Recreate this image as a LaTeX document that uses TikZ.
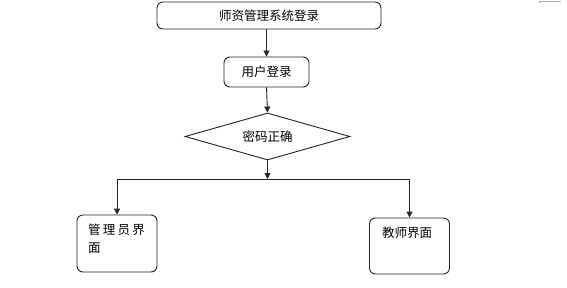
\documentclass[tikz,border=0pt]{standalone}
\usepackage{fontspec}
\setmainfont{Noto Sans CJK SC}
\usetikzlibrary{shapes.geometric,arrows.meta}
\begin{document}
\begin{tikzpicture}[x=1pt,y=1pt,
  box/.style={draw=black!85,line width=0.9pt,rounded corners=6pt,inner sep=0pt},
  lbl/.style={font=\fontsize{12.5}{14}\selectfont,inner sep=0pt},
  conn/.style={draw=black!85,line width=0.9pt},
  arr/.style={conn,-{Triangle[width=6pt,length=6pt]}}]
\useasboundingbox (0,0) rectangle (567,-287);
\fill[white] (0,0) rectangle (567,-287);
% faint mark at top right
\draw[black!30,line width=0.6pt] (539,-1.5) -- (561,-1.5) (539,-0.5) -- (539,-2.5);
% nodes
\node[box,minimum width=224pt,minimum height=27pt] (top) at (269,-15.5) {};
\node[lbl] (toptext) at (top.center) {师资管理系统登录};
\node[box,minimum width=85pt,minimum height=30pt] (login) at (266.5,-72) {};
\node[lbl] (logintext) at (login.center) {用户登录};
\node[draw=black!85,line width=0.9pt,diamond,inner sep=0pt,minimum width=165pt,minimum height=47pt] (pwd) at (267.5,-136.5) {};
\node[lbl] (pwdtext) at (pwd.center) {密码正确};
\node[box,minimum width=80pt,minimum height=57pt] (admin) at (117,-243.5) {};
\node[lbl,anchor=north west] (admintext1) at (88,-224) {管\hspace{2.2pt}理\hspace{2.2pt}员\hspace{2.2pt}界};
\node[lbl,anchor=north west] (admintext2) at (88,-243) {面};
\node[box,minimum width=80pt,minimum height=56pt] (teacher) at (409.5,-246) {};
\node[lbl,anchor=north west] (teachertext) at (382,-227) {教师界面};
% connectors
\coordinate (j) at (267.5,-179);
\coordinate (jl) at (117,-179);
\coordinate (jr) at (409.5,-179);
\draw[arr] (top.south -| login.north) -- (login.north);
\draw[arr] (login.south) -- (pwd.north);
\draw[arr] (pwd.south) -- (j);
\draw[conn] (jl) -- (jr);
\draw[arr] (jl) -- (admin.north);
\draw[arr] (jr) -- (teacher.north);
\end{tikzpicture}
\end{document}
